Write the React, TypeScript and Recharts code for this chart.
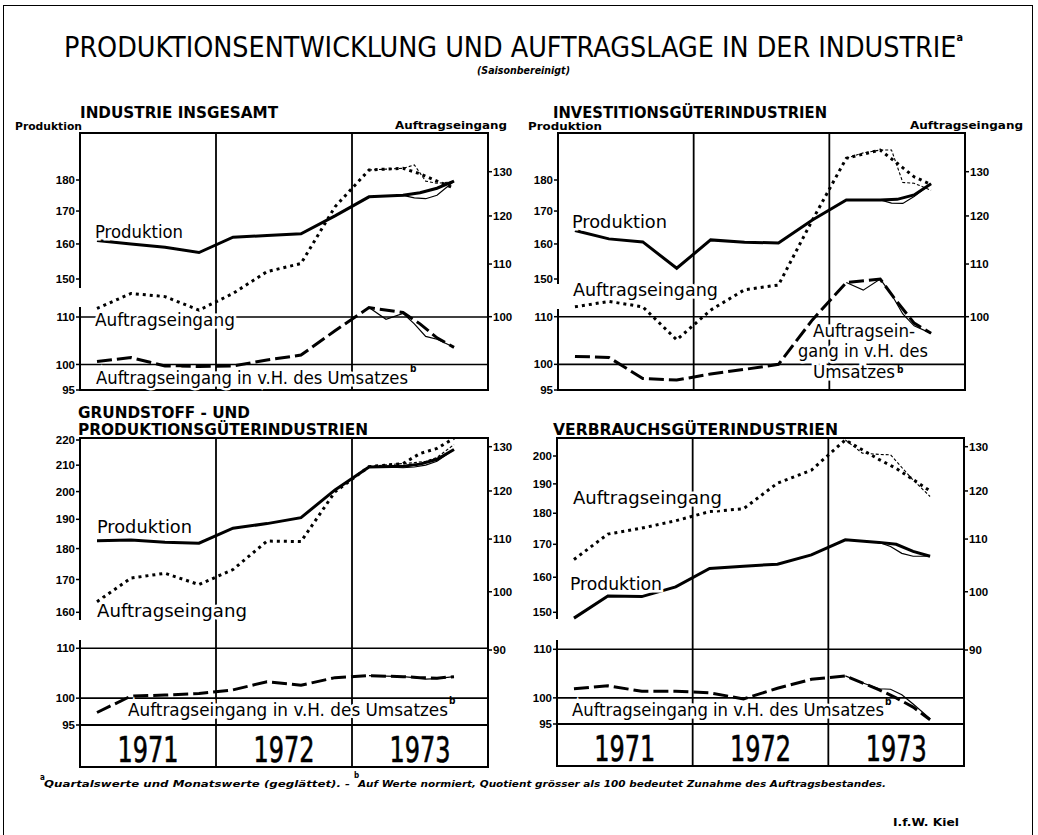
import React from 'react';
import { LineChart, Line, XAxis, YAxis, ReferenceLine } from 'recharts';

// x = Monate seit Jan. 1971 (Quartalsmitten, 1973 dichter)
const X_MAIN = [1.5, 4.5, 7.5, 10.5, 13.5, 16.5, 19.5, 22.5, 25.5, 28.5, 30, 31.5, 33];
const X_THIN = [25.5, 27, 28.5, 29.5, 30.5, 31.5, 33];
const YEARS = ['1971', '1972', '1973'];
const YEAR_TICKS = [0, 6, 12, 18, 24, 30, 36];

// Industrie insgesamt
const TL_PROD = [161, 160, 159, 157.5, 162, 162.5, 163, 168.5, 174.5, 175, 175.8, 177.3, 179.6];
const TL_PROD_M = [174.5, 174.8, 175, 174.2, 173.9, 175, 179.6];
const TL_AUF = [101.5, 104.3, 103.7, 101.2, 104.3, 108.5, 110.1, 122, 130.4, 130.8, 129.5, 127.8, 126.2];
const TL_AUF_M = [130.4, 130.6, 130.8, 131.6, 127.8, 127.3, 127.7];
const TL_QUOT = [100.6, 101.4, 99.7, 99.6, 99.7, 100.9, 101.9, 107, 112.1, 111, 108.5, 105.5, 103.5];
const TL_QUOT_M = [112.1, 109.5, 110.8, 108.5, 105.8, 105.2, 103.5];

// Investitionsgüterindustrien
const TR_PROD = [164, 161.5, 160.6, 153, 161.2, 160.5, 160.3, 167.2, 173.5, 173.5, 173.7, 175.1, 178.8];
const TR_PROD_M = [173.5, 173.5, 173.5, 172.5, 172.4, 174.6, 178.8];
const TR_AUF = [101.8, 102.8, 101.8, 95.9, 101.2, 105, 105.9, 119.1, 133.2, 135.2, 132, 128.8, 127];
const TR_AUF_M = [133.2, 134.5, 135.2, 135.2, 127.5, 127.3, 125.7];
const TR_QUOT = [101.6, 101.4, 97.2, 96.9, 98.1, 99, 100, 109.3, 117.8, 118.6, 113.3, 108.6, 106.4];
const TR_QUOT_M = [117.8, 116, 118.6, 115, 110.6, 108, 106.4];

// Grundstoff- und Produktionsgüterindustrien
const BL_PROD = [182.6, 182.9, 182.1, 181.8, 186.9, 188.5, 190.6, 200.6, 209.3, 209.6, 210.4, 212.3, 216.2];
const BL_PROD_M = [209.3, 209.3, 209, 209.3, 210, 211.5, 216.2];
const BL_AUF = [98.2, 102.5, 103.4, 101.3, 104.1, 109.6, 109.5, 119.8, 125.4, 126.1, 128.4, 129.6, 132];
const BL_AUF_M = [125.4, 125.8, 126.1, 126.3, 126.6, 127.5, 130.5];
const BL_QUOT = [97.3, 100.4, 100.6, 100.9, 101.6, 103.2, 102.5, 104, 104.4, 104.2, 104, 103.9, 104.2];
const BL_QUOT_M = [104.4, 104.3, 104.2, 104, 103.7, 103.8, 104.2];

// Verbrauchsgüterindustrien
const BR_PROD = [148.4, 154.6, 154.4, 157.2, 162.6, 163.3, 163.9, 166.7, 171.4, 170.6, 170, 167.8, 166.3];
const BR_PROD_M = [171.4, 171, 170.6, 169.3, 167.2, 166.3, 166.3];
const BR_AUF = [106, 111, 112.2, 113.7, 115.6, 116.2, 121.7, 124.6, 131.6, 127, 125, 122.5, 120];
const BR_AUF_M = [131.6, 128.5, 128.2, 128.1, 125.2, 122.4, 118.8];
const BR_QUOT = [101.8, 102.4, 101.3, 101.3, 101, 99.8, 101.9, 103.7, 104.4, 101.6, 100, 98.2, 95.8];
const BR_QUOT_M = [104.4, 103, 101.8, 101.7, 100.6, 98.8, 96];

const PROD_TICKS_TOP = [150, 160, 170, 180];
const PROD_TICKS_BL = [160, 170, 180, 190, 200, 210, 220];
const PROD_TICKS_BR = [150, 160, 170, 180, 190, 200];
const AUF_TICKS_TOP = [100, 110, 120, 130];
const AUF_TICKS_BOTTOM = [90, 100, 110, 120, 130];
const QUOT_TICKS = [95, 100, 110];

const AX = 40;
const MT = 10;
const XH = 43;
const NARROW = "'Liberation Sans Narrow', 'DejaVu Sans Condensed', 'Liberation Sans', sans-serif";

const zip = (xs: number[], vs: number[]) => xs.map((m, i) => ({ m, v: vs[i] }));

// log scale: domain from two tick positions (value, pixel) of the original
function logDomain(ref: number[], top: number, bottom: number): [number, number] {
  const [v1, y1, v2, y2] = ref;
  const k = (y2 - y1) / Math.log(v1 / v2);
  return [v2 * Math.exp(-(bottom - y2) / k), v1 * Math.exp((y1 - top) / k)];
}

const PANELS = [
  {
    key: 'tl', left: 80, top: 133, width: 408, height: 257, years: false, gap: [288, 307],
    prod: TL_PROD, prodM: TL_PROD_M, auf: TL_AUF, aufM: TL_AUF_M, quot: TL_QUOT, quotM: TL_QUOT_M,
    prodTicks: PROD_TICKS_TOP, aufTicks: AUF_TICKS_TOP,
    prodRef: [180, 180, 150, 279], aufRef: [130, 171.7, 100, 316.7], quotRef: [110, 317, 95, 390],
  },
  {
    key: 'tr', left: 558, top: 133, width: 407, height: 257, years: false, gap: [284, 309],
    prod: TR_PROD, prodM: TR_PROD_M, auf: TR_AUF, aufM: TR_AUF_M, quot: TR_QUOT, quotM: TR_QUOT_M,
    prodTicks: PROD_TICKS_TOP, aufTicks: AUF_TICKS_TOP,
    prodRef: [180, 180, 150, 279], aufRef: [130, 171.7, 100, 316.7], quotRef: [110, 316.7, 95, 390],
  },
  {
    key: 'bl', left: 80, top: 438, width: 408, height: 287, years: true, gap: [620, 640],
    prod: BL_PROD, prodM: BL_PROD_M, auf: BL_AUF, aufM: BL_AUF_M, quot: BL_QUOT, quotM: BL_QUOT_M,
    prodTicks: PROD_TICKS_BL, aufTicks: AUF_TICKS_BOTTOM,
    prodRef: [220, 440, 160, 612.3], aufRef: [130, 446.7, 90, 650], quotRef: [110, 648.3, 95, 725],
  },
  {
    key: 'br', left: 557, top: 438, width: 407, height: 286, years: true, gap: [619, 640],
    prod: BR_PROD, prodM: BR_PROD_M, auf: BR_AUF, aufM: BR_AUF_M, quot: BR_QUOT, quotM: BR_QUOT_M,
    prodTicks: PROD_TICKS_BR, aufTicks: AUF_TICKS_BOTTOM,
    prodRef: [200, 456, 150, 612.3], aufRef: [130, 446.7, 90, 650], quotRef: [110, 649.3, 95, 724],
  },
];

const tickStyle = { fontSize: 11.5, fontWeight: 700, fill: '#000', fontFamily: "'Liberation Sans', Arial, sans-serif" };
const tickLine = { stroke: '#000', strokeWidth: 1.5 };

function YearTick(props: any) {
  const { x, payload, top } = props;
  const v = payload.value;
  if (v % 12 === 0) {
    if (v === 0 || v === 36) return <g />;
    return <line x1={x} x2={x} y1={top} y2={top + XH} stroke="#000" strokeWidth={1.8} />;
  }
  return (
    <text x={x} y={top + 37} textAnchor="middle" fontSize={36} fontFamily={NARROW}
      textLength={61} lengthAdjust="spacingAndGlyphs" fill="#000" stroke="#000" strokeWidth={0.6}>
      {YEARS[Math.floor(v / 12)]}
    </text>
  );
}

function Panel({ p }: { p: any }) {
  const bottom = p.top + p.height;
  const xh = p.years ? XH : 0;
  const mb = p.years ? 2 : 10;
  const w = p.width + 2 * AX;
  const h = p.height + MT + xh + mb;
  const wrap: React.CSSProperties = { position: 'absolute', left: p.left - AX, top: p.top - MT };

  const xAxis = (show: boolean) =>
    p.years ? (
      <XAxis type="number" dataKey="m" domain={[0, 36]} allowDataOverflow ticks={YEAR_TICKS} interval={0}
        height={XH} axisLine={false} tickLine={false}
        tick={show ? (tp: any) => <YearTick {...tp} top={MT + p.height} /> : false} />
    ) : (
      <XAxis type="number" dataKey="m" domain={[0, 36]} allowDataOverflow hide />
    );

  return (
    <>
      <div style={{ position: 'absolute', left: p.left - 1, top: p.top - 1, width: p.width + 2, height: p.height + 2, border: '2px solid #000', boxSizing: 'border-box' }} />
      <div style={{ position: 'absolute', left: p.left - 3, top: p.gap[0], width: 6, height: p.gap[1] - p.gap[0], background: '#fff' }} />
      {p.years && (
        <div style={{ position: 'absolute', left: p.left - 1, top: bottom, width: p.width + 2, height: XH, border: '2px solid #000', borderTop: 'none', boxSizing: 'border-box' }} />
      )}
      <div style={wrap}>
        <LineChart width={w} height={h} margin={{ top: MT, right: AX, bottom: mb, left: 0 }}>
          {xAxis(true)}
          <YAxis yAxisId="r" orientation="left" width={AX} type="number" scale="log"
            domain={logDomain(p.quotRef, p.top, bottom)} allowDataOverflow ticks={QUOT_TICKS} interval={0}
            axisLine={false} tickSize={4} tickMargin={1} tick={tickStyle} tickLine={tickLine} />
          <ReferenceLine yAxisId="r" y={110} stroke="#000" strokeWidth={1.6} />
          <ReferenceLine yAxisId="r" y={100} stroke="#000" strokeWidth={1.6} />
          <ReferenceLine yAxisId="r" x={12} stroke="#000" strokeWidth={1.8} />
          <ReferenceLine yAxisId="r" x={24} stroke="#000" strokeWidth={1.8} />
          <Line yAxisId="r" data={zip(X_THIN, p.quotM)} dataKey="v" type="linear" stroke="#000" strokeWidth={1.2} dot={false} isAnimationActive={false} />
          <Line yAxisId="r" data={zip(X_MAIN, p.quot)} dataKey="v" type="linear" stroke="#000" strokeWidth={3} strokeDasharray="15 5" dot={false} isAnimationActive={false} />
        </LineChart>
      </div>
      <div style={wrap}>
        <LineChart width={w} height={h} margin={{ top: MT, right: 0, bottom: mb, left: 0 }}>
          {xAxis(false)}
          <YAxis yAxisId="p" orientation="left" width={AX} type="number" scale="log"
            domain={logDomain(p.prodRef, p.top, bottom)} allowDataOverflow ticks={p.prodTicks} interval={0}
            axisLine={false} tickSize={4} tickMargin={1} tick={tickStyle} tickLine={tickLine} />
          <YAxis yAxisId="a" orientation="right" width={AX} type="number" scale="log"
            domain={logDomain(p.aufRef, p.top, bottom)} allowDataOverflow ticks={p.aufTicks} interval={0}
            axisLine={false} tickSize={4} tickMargin={1} tick={tickStyle} tickLine={tickLine} />
          <Line yAxisId="p" data={zip(X_THIN, p.prodM)} dataKey="v" type="linear" stroke="#000" strokeWidth={1.2} dot={false} isAnimationActive={false} />
          <Line yAxisId="p" data={zip(X_MAIN, p.prod)} dataKey="v" type="linear" stroke="#000" strokeWidth={3} dot={false} isAnimationActive={false} />
          <Line yAxisId="a" data={zip(X_THIN, p.aufM)} dataKey="v" type="linear" stroke="#000" strokeWidth={1.1} strokeDasharray="3 2" dot={false} isAnimationActive={false} />
          <Line yAxisId="a" data={zip(X_MAIN, p.auf)} dataKey="v" type="linear" stroke="#000" strokeWidth={3} strokeDasharray="3 4" dot={false} isAnimationActive={false} />
        </LineChart>
      </div>
    </>
  );
}

type Lbl = { s: string; x: number; y: number; w?: number; size: number; weight?: number; italic?: boolean; halo?: boolean };

const LABELS: Lbl[] = [
  { s: '(Saisonbereinigt)', x: 477, y: 74, w: 93, size: 10.5, weight: 700, italic: true },

  { s: 'INDUSTRIE INSGESAMT', x: 80, y: 118, w: 198, size: 15, weight: 700 },
  { s: 'Produktion', x: 15, y: 130, w: 67, size: 10.5, weight: 700 },
  { s: 'Auftragseingang', x: 395, y: 129, w: 112, size: 10.5, weight: 700 },
  { s: 'INVESTITIONSGÜTERINDUSTRIEN', x: 553, y: 118, w: 274, size: 15, weight: 700 },
  { s: 'Produktion', x: 528, y: 130, w: 74, size: 10.5, weight: 700 },
  { s: 'Auftragseingang', x: 910, y: 129, w: 113, size: 10.5, weight: 700 },
  { s: 'GRUNDSTOFF - UND', x: 78, y: 418, w: 172, size: 15, weight: 700 },
  { s: 'PRODUKTIONSGÜTERINDUSTRIEN', x: 78, y: 435, w: 290, size: 15, weight: 700 },
  { s: 'VERBRAUCHSGÜTERINDUSTRIEN', x: 553, y: 435, w: 285, size: 15, weight: 700 },

  { s: 'Produktion', x: 95, y: 238, w: 88, size: 18, halo: true },
  { s: 'Auftragseingang', x: 95, y: 326, w: 140, size: 18, halo: true },
  { s: 'Auftragseingang in v.H. des Umsatzes', x: 96, y: 384, w: 312, size: 17, halo: true },
  { s: 'b', x: 410, y: 372, size: 10, weight: 700 },
  { s: 'Produktion', x: 572, y: 228, w: 95, size: 18, halo: true },
  { s: 'Auftragseingang', x: 573, y: 296, w: 145, size: 18, halo: true },
  { s: 'Auftragsein-', x: 813, y: 337, w: 102, size: 17, halo: true },
  { s: 'gang in v.H. des', x: 798, y: 357, w: 130, size: 17, halo: true },
  { s: 'Umsatzes', x: 813, y: 378, w: 82, size: 17, halo: true },
  { s: 'b', x: 897, y: 373, size: 10, weight: 700 },
  { s: 'Produktion', x: 97, y: 533, w: 95, size: 18, halo: true },
  { s: 'Auftragseingang', x: 97, y: 617, w: 150, size: 18, halo: true },
  { s: 'Auftragseingang in v.H. des Umsatzes', x: 128, y: 716, w: 320, size: 17, halo: true },
  { s: 'b', x: 449, y: 704, size: 10, weight: 700 },
  { s: 'Auftragseingang', x: 573, y: 504, w: 149, size: 18, halo: true },
  { s: 'Produktion', x: 570, y: 590, w: 92, size: 18, halo: true },
  { s: 'Auftragseingang in v.H. des Umsatzes', x: 572, y: 716, w: 312, size: 17, halo: true },
  { s: 'b', x: 885, y: 705, size: 10, weight: 700 },

  { s: 'a', x: 40, y: 780, size: 8, weight: 700 },
  { s: 'Quartalswerte und Monatswerte (geglättet). -', x: 44, y: 787, w: 306, size: 9.5, weight: 700, italic: true },
  { s: 'b', x: 354, y: 778, size: 8, weight: 700 },
  { s: 'Auf Werte normiert, Quotient grösser als 100 bedeutet Zunahme des Auftragsbestandes.', x: 358, y: 787, w: 528, size: 9.5, weight: 700, italic: true },
  { s: 'I.f.W. Kiel', x: 893, y: 826, w: 66, size: 10, weight: 700 },
];

export default function App() {
  return (
    <div style={{ position: 'absolute', left: 0, top: 0, width: 1038, height: 835, background: '#fff', overflow: 'hidden' }}>
      <div style={{ position: 'absolute', left: 3, top: 5, width: 1030, height: 860, border: '1.5px solid #000', boxSizing: 'border-box' }} />
      {PANELS.map((p) => <Panel key={p.key} p={p} />)}
      <svg width={1038} height={835} style={{ position: 'absolute', left: 0, top: 0, pointerEvents: 'none' }}>
        <text x={64} y={57} fontSize={29} fontFamily={NARROW} fill="#000" textLength={899} lengthAdjust="spacingAndGlyphs">
          PRODUKTIONSENTWICKLUNG UND AUFTRAGSLAGE IN DER INDUSTRIE
          <tspan fontSize={11} fontWeight={700} dy={-16}>a</tspan>
        </text>
        {LABELS.map((l, i) => (
          <text key={i} x={l.x} y={l.y} fontSize={l.size} fontWeight={l.weight ?? 400}
            fontStyle={l.italic ? 'italic' : 'normal'} fontFamily={NARROW} fill="#000"
            textLength={l.w} lengthAdjust={l.w ? 'spacingAndGlyphs' : undefined}
            stroke={l.halo ? '#fff' : undefined} strokeWidth={l.halo ? 5 : undefined}
            paintOrder="stroke">
            {l.s}
          </text>
        ))}
      </svg>
    </div>
  );
}
